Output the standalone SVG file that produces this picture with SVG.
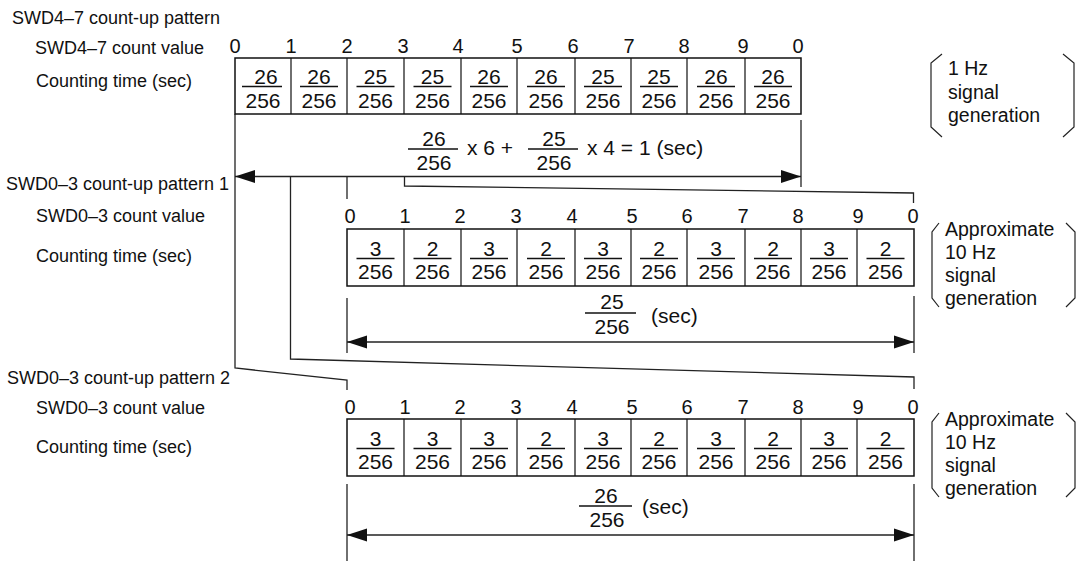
<svg xmlns="http://www.w3.org/2000/svg" width="1079" height="561" viewBox="0 0 1079 561">
<defs>
<style>
text{font-family:"Liberation Sans",Arial,sans-serif;fill:#111}
.lbl{font-size:18px}
.cnt{font-size:20px;text-anchor:middle}
.fr{font-size:21px;text-anchor:middle}
.ft{font-size:21px}
.br{font-size:19.5px}
.box{fill:#fff;stroke:#111;stroke-width:1.5}
.div{stroke:#111;stroke-width:1.2}
.bar{stroke:#111;stroke-width:1.3}
.ln{fill:none;stroke:#222;stroke-width:1.3}
.dim{fill:none;stroke:#222;stroke-width:1.3;marker-start:url(#ahL);marker-end:url(#ahR)}
.brk{fill:none;stroke:#222;stroke-width:1.2}
</style>
<marker id="ahR" markerUnits="userSpaceOnUse" markerWidth="21" markerHeight="14" refX="20" refY="7" orient="auto"><path d="M0,0.5 L20,7 L0,13.5 Z" fill="#111"/></marker>
<marker id="ahL" markerUnits="userSpaceOnUse" markerWidth="21" markerHeight="14" refX="0" refY="7" orient="auto"><path d="M20,0.5 L0,7 L20,13.5 Z" fill="#111"/></marker>
</defs>
<rect width="1079" height="561" fill="#fff"/>

<g id="labels">
<text class="lbl" x="12" y="24">SWD4–7 count-up pattern</text>
<text class="lbl" x="35" y="54">SWD4–7 count value</text>
<text class="lbl" x="36" y="87">Counting time (sec)</text>
<text class="lbl" x="6" y="190">SWD0–3 count-up pattern 1</text>
<text class="lbl" x="36" y="222">SWD0–3 count value</text>
<text class="lbl" x="36" y="262">Counting time (sec)</text>
<text class="lbl" x="7" y="384">SWD0–3 count-up pattern 2</text>
<text class="lbl" x="36" y="414">SWD0–3 count value</text>
<text class="lbl" x="36" y="453">Counting time (sec)</text>
</g>

<g id="connectors">
<path class="ln" d="M235,114 V368 L347,380 V390"/>
<path class="ln" d="M290.5,176.5 V359 L914,377 V389"/>
<path class="ln" d="M347,176.5 V199"/>
<path class="ln" d="M404.5,176.5 V186 L913.5,193 V203"/>
<path class="ln" d="M801,120 V187"/>
<line class="dim" x1="235" y1="176.5" x2="801" y2="176.5"/>
<path class="ln" d="M347,298 V353"/>
<path class="ln" d="M914,296 V353"/>
<line class="dim" x1="347" y1="342" x2="914" y2="342"/>
<path class="ln" d="M347,484 V561"/>
<path class="ln" d="M914,484 V561"/>
<line class="dim" x1="347" y1="535" x2="914" y2="535"/>
</g>

<g id="pattern-swd47">
<g id="swd47-counts">
<text class="cnt" x="235" y="53">0</text>
<text class="cnt" x="291" y="53">1</text>
<text class="cnt" x="347" y="53">2</text>
<text class="cnt" x="403" y="53">3</text>
<text class="cnt" x="458" y="53">4</text>
<text class="cnt" x="517" y="53">5</text>
<text class="cnt" x="573" y="53">6</text>
<text class="cnt" x="629" y="53">7</text>
<text class="cnt" x="684" y="53">8</text>
<text class="cnt" x="743" y="53">9</text>
<text class="cnt" x="798" y="53">0</text>
</g>
<g id="swd47-table">
<rect class="box" x="235" y="58" width="566" height="56"/>
<path class="div" d="M291,58V114M347,58V114M404,58V114M461,58V114M517,58V114M575,58V114M631,58V114M687,58V114M745,58V114"/>
<path class="bar" d="M242,86.5H282M300,86.5H338M356.5,86.5H394.5M413.5,86.5H451.5M470,86.5H508M527,86.5H565M584,86.5H622M640,86.5H678M697,86.5H735M754,86.5H792"/>
<text class="fr" x="266" y="83.5">26</text><text class="fr" x="263" y="107.5">256</text>
<text class="fr" x="319" y="83.5">26</text><text class="fr" x="319" y="107.5">256</text>
<text class="fr" x="375.5" y="83.5">25</text><text class="fr" x="375.5" y="107.5">256</text>
<text class="fr" x="432.5" y="83.5">25</text><text class="fr" x="432.5" y="107.5">256</text>
<text class="fr" x="489" y="83.5">26</text><text class="fr" x="489" y="107.5">256</text>
<text class="fr" x="546" y="83.5">26</text><text class="fr" x="546" y="107.5">256</text>
<text class="fr" x="603" y="83.5">25</text><text class="fr" x="603" y="107.5">256</text>
<text class="fr" x="659" y="83.5">25</text><text class="fr" x="659" y="107.5">256</text>
<text class="fr" x="716" y="83.5">26</text><text class="fr" x="716" y="107.5">256</text>
<text class="fr" x="773" y="83.5">26</text><text class="fr" x="773" y="107.5">256</text>
</g>
<g id="swd47-total">
<line class="bar" x1="408" y1="149" x2="458" y2="149"/>
<text class="fr" x="434" y="146">26</text><text class="fr" x="434" y="170">256</text>
<text class="ft" x="467" y="155">x 6 +</text>
<line class="bar" x1="528" y1="149" x2="578" y2="149"/>
<text class="fr" x="554" y="146">25</text><text class="fr" x="554" y="170">256</text>
<text class="ft" x="587" y="155">x 4 = 1 (sec)</text>
</g>
<g id="swd47-note">
<path class="brk" d="M942,54 L931,63 V127 L942,137"/>
<path class="brk" d="M1063,54 L1074,63 V127 L1063,137"/>
<text class="br" x="948" y="75">1 Hz</text>
<text class="br" x="948" y="98.5">signal</text>
<text class="br" x="948" y="122">generation</text>
</g>
</g>

<g id="pattern-swd03-1">
<g id="p1-counts">
<text class="cnt" x="350" y="223">0</text>
<text class="cnt" x="405" y="223">1</text>
<text class="cnt" x="460" y="223">2</text>
<text class="cnt" x="516" y="223">3</text>
<text class="cnt" x="572" y="223">4</text>
<text class="cnt" x="632" y="223">5</text>
<text class="cnt" x="687" y="223">6</text>
<text class="cnt" x="743" y="223">7</text>
<text class="cnt" x="798" y="223">8</text>
<text class="cnt" x="858" y="223">9</text>
<text class="cnt" x="913" y="223">0</text>
</g>
<g id="p1-table">
<rect class="box" x="347" y="229" width="567" height="57"/>
<path class="div" d="M404,229V286M461,229V286M517,229V286M575,229V286M631,229V286M687,229V286M745,229V286M801,229V286M857,229V286"/>
<path class="bar" d="M356.5,258.5H394.5M413.5,258.5H451.5M470,258.5H508M527,258.5H565M584,258.5H622M640,258.5H678M697,258.5H735M754,258.5H792M810,258.5H848M866.5,258.5H904.5"/>
<text class="fr" x="375.5" y="255.5">3</text><text class="fr" x="375.5" y="279">256</text>
<text class="fr" x="432.5" y="255.5">2</text><text class="fr" x="432.5" y="279">256</text>
<text class="fr" x="489" y="255.5">3</text><text class="fr" x="489" y="279">256</text>
<text class="fr" x="546" y="255.5">2</text><text class="fr" x="546" y="279">256</text>
<text class="fr" x="603" y="255.5">3</text><text class="fr" x="603" y="279">256</text>
<text class="fr" x="659" y="255.5">2</text><text class="fr" x="659" y="279">256</text>
<text class="fr" x="716" y="255.5">3</text><text class="fr" x="716" y="279">256</text>
<text class="fr" x="773" y="255.5">2</text><text class="fr" x="773" y="279">256</text>
<text class="fr" x="829" y="255.5">3</text><text class="fr" x="829" y="279">256</text>
<text class="fr" x="885.5" y="255.5">2</text><text class="fr" x="885.5" y="279">256</text>
</g>
<g id="p1-total">
<line class="bar" x1="585" y1="313" x2="636" y2="313"/>
<text class="fr" x="612" y="309">25</text><text class="fr" x="612" y="334">256</text>
<text class="ft" x="651" y="323">(sec)</text>
</g>
<g id="p1-note">
<path class="brk" d="M939,223 L932,232 V298 L939,307"/>
<path class="brk" d="M1066,223 L1075,232 V298 L1066,307"/>
<text class="br" x="945" y="235.5">Approximate</text>
<text class="br" x="945" y="258.5">10 Hz</text>
<text class="br" x="945" y="281.5">signal</text>
<text class="br" x="945" y="304.5">generation</text>
</g>
</g>

<g id="pattern-swd03-2">
<g id="p2-counts">
<text class="cnt" x="350" y="414">0</text>
<text class="cnt" x="405" y="414">1</text>
<text class="cnt" x="460" y="414">2</text>
<text class="cnt" x="516" y="414">3</text>
<text class="cnt" x="572" y="414">4</text>
<text class="cnt" x="632" y="414">5</text>
<text class="cnt" x="687" y="414">6</text>
<text class="cnt" x="743" y="414">7</text>
<text class="cnt" x="798" y="414">8</text>
<text class="cnt" x="858" y="414">9</text>
<text class="cnt" x="913" y="414">0</text>
</g>
<g id="p2-table">
<rect class="box" x="347" y="419" width="567" height="57"/>
<path class="div" d="M404,419V476M461,419V476M517,419V476M575,419V476M631,419V476M687,419V476M745,419V476M801,419V476M857,419V476"/>
<path class="bar" d="M356.5,448.5H394.5M413.5,448.5H451.5M470,448.5H508M527,448.5H565M584,448.5H622M640,448.5H678M697,448.5H735M754,448.5H792M810,448.5H848M866.5,448.5H904.5"/>
<text class="fr" x="375.5" y="445.5">3</text><text class="fr" x="375.5" y="469">256</text>
<text class="fr" x="432.5" y="445.5">3</text><text class="fr" x="432.5" y="469">256</text>
<text class="fr" x="489" y="445.5">3</text><text class="fr" x="489" y="469">256</text>
<text class="fr" x="546" y="445.5">2</text><text class="fr" x="546" y="469">256</text>
<text class="fr" x="603" y="445.5">3</text><text class="fr" x="603" y="469">256</text>
<text class="fr" x="659" y="445.5">2</text><text class="fr" x="659" y="469">256</text>
<text class="fr" x="716" y="445.5">3</text><text class="fr" x="716" y="469">256</text>
<text class="fr" x="773" y="445.5">2</text><text class="fr" x="773" y="469">256</text>
<text class="fr" x="829" y="445.5">3</text><text class="fr" x="829" y="469">256</text>
<text class="fr" x="885.5" y="445.5">2</text><text class="fr" x="885.5" y="469">256</text>
</g>
<g id="p2-total">
<line class="bar" x1="579" y1="506" x2="632" y2="506"/>
<text class="fr" x="606" y="503">26</text><text class="fr" x="607" y="527">256</text>
<text class="ft" x="642" y="514">(sec)</text>
</g>
<g id="p2-note">
<path class="brk" d="M939,413 L932,422 V488 L939,497"/>
<path class="brk" d="M1066,413 L1075,422 V488 L1066,497"/>
<text class="br" x="945" y="426">Approximate</text>
<text class="br" x="945" y="449">10 Hz</text>
<text class="br" x="945" y="472">signal</text>
<text class="br" x="945" y="495">generation</text>
</g>
</g>
</svg>
